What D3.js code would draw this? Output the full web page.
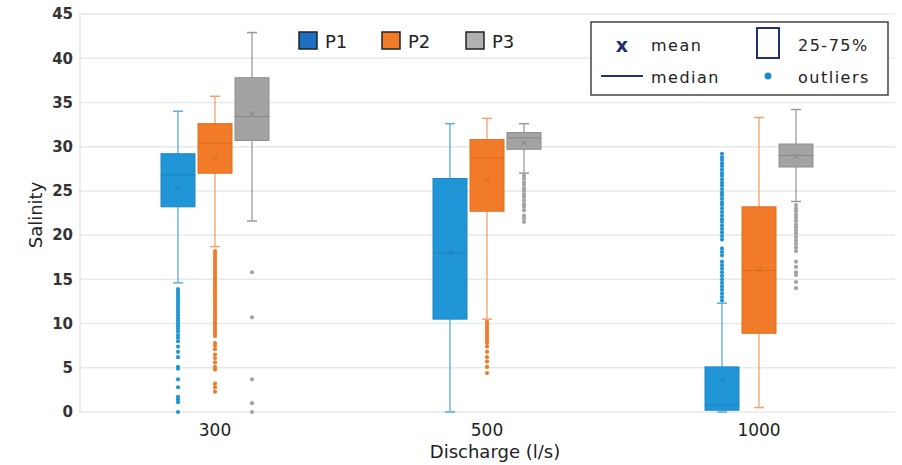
<!DOCTYPE html>
<html>
<head>
<meta charset="utf-8">
<script src="https://cdn.jsdelivr.net/npm/d3@7"></script>
<style>
  body { margin: 0; background: #fff; }
  text { font-family: "DejaVu Sans", Verdana, sans-serif; }
</style>
</head>
<body>
<svg id="chart" width="902" height="465"></svg>
<script>
// Discharge categories and sites
var categories = ["300", "500", "1000"];
var seriesNames = ["P1", "P2", "P3"];
var yTicks = [0, 5, 10, 15, 20, 25, 30, 35, 40, 45];

// per category: [whisker low, q1, median, q3, whisker high, mean]
var p1Box = [[14.6, 23.2, 26.8, 29.2, 34.0, 25.3], [0, 10.5, 18.0, 26.4, 32.6, 18.0], [0, 0.2, 0.8, 5.1, 12.3, 3.6]];
var p2Box = [[18.7, 27.0, 30.4, 32.6, 35.7, 28.8], [10.5, 22.7, 28.7, 30.8, 33.2, 26.2], [0.5, 8.9, 16.0, 23.2, 33.3, 16.1]];
var p3Box = [[21.6, 30.7, 33.4, 37.8, 42.9, 33.7], [27.0, 29.7, 31.0, 31.6, 32.6, 30.4], [23.8, 27.7, 29.0, 30.3, 34.2, 28.9]];

// outliers per category
var p1Out = [
    [13.9, 13.6, 13.3, 13.0, 12.7, 12.4, 12.1, 11.8, 11.5, 11.2, 10.9, 10.6, 10.3, 10.0, 9.7, 9.4, 9.1, 8.7, 8.4, 8.0, 7.4, 6.8, 6.2, 5.1, 4.9, 3.7, 2.8, 1.7, 1.4, 1.1, 0],
    [],
    [29.2, 28.8, 28.5, 28.1, 27.8, 27.4, 27.0, 26.7, 26.3, 25.9, 25.6, 25.2, 24.8, 24.5, 24.1, 23.7, 23.4, 23.0, 22.6, 22.2, 21.8, 21.5, 21.1, 20.7, 20.3, 19.9, 19.5, 18.5, 18.1, 17.7, 17.0, 16.6, 16.2, 15.8, 15.4, 15.0, 14.6, 14.2, 13.8, 13.4, 13.0, 12.6]
];
var p2Out = [
    [18.2, 17.9, 17.6, 17.3, 17.0, 16.7, 16.4, 16.1, 15.8, 15.5, 15.2, 14.9, 14.6, 14.3, 14.0, 13.7, 13.4, 13.1, 12.8, 12.5, 12.2, 11.9, 11.6, 11.3, 11.0, 10.7, 10.4, 10.1, 9.8, 9.5, 9.2, 8.9, 8.6, 7.8, 7.5, 7.1, 6.5, 6.1, 5.6, 5.1, 4.8, 3.2, 2.8, 2.3],
    [10.2, 9.9, 9.6, 9.3, 9.0, 8.7, 8.4, 8.1, 7.8, 7.4, 6.8, 6.2, 5.7, 5.1, 4.4],
    []
];
var p3Out = [
    [15.8, 10.7, 3.7, 1.0, 0],
    [26.7, 26.4, 26.0, 25.7, 25.3, 25.0, 24.6, 24.3, 23.9, 23.5, 23.2, 22.8, 22.2, 21.9, 21.5],
    [23.4, 23.0, 22.7, 22.3, 22.0, 21.6, 21.2, 20.9, 20.5, 20.2, 19.8, 19.4, 19.0, 18.6, 18.2, 17.0, 16.4, 15.8, 15.5, 14.7, 14.0]
];

var boxes = [p1Box, p2Box, p3Box];
var outs = [p1Out, p2Out, p3Out];

var fills = ["#2196d6", "#f27b2a", "#a3a3a3"];
var edges = ["#1c86c4", "#e06e20", "#8f8f8f"];
var whisk = ["#5aaee2", "#f4a06c", "#9a9a9a"];
var inner = ["#1a78b3", "#d0641c", "#7d7d7d"];
var legendFills = ["#1e6fc1", "#f27b2a", "#b0b0b0"];

var m = { left: 79, right: 7, top: 14, bottom: 53 };
var w = 902 - m.left - m.right;
var h = 465 - m.top - m.bottom;

var svg = d3.select("#chart");
var chart = svg.append("g")
    .attr("transform", "translate(" + m.left + "," + m.top + ")");

var x = d3.scaleBand().domain(categories).range([0, w]);
var xs = d3.scalePoint().domain(seriesNames).range([-37, 37]);
var y = d3.scaleLinear().domain([0, 45]).range([h, 0]);
var boxW = 34;

// gridlines
chart.selectAll(".grid").data(yTicks).enter().append("line")
    .attr("x1", 0).attr("x2", w)
    .attr("y1", function (d) { return y(d); })
    .attr("y2", function (d) { return y(d); })
    .style("stroke", "#e6e9ea").style("stroke-width", 1.5);
chart.append("line")
    .attr("x1", 1).attr("x2", 1).attr("y1", 0).attr("y2", h)
    .style("stroke", "#e4e6e7").style("stroke-width", 1.5);

// y axis labels
var yAxis = d3.axisLeft(y).tickValues(yTicks).tickSize(0).tickPadding(6);
var gY = chart.append("g").call(yAxis);
gY.select(".domain").remove();
gY.selectAll("text")
    .style("font-size", "15px").style("font-weight", "bold").style("fill", "#333");

// x axis labels
var xAxis = d3.axisBottom(x).tickSize(0).tickPadding(12);
var gX = chart.append("g").attr("transform", "translate(0," + h + ")").call(xAxis);
gX.select(".domain").remove();
gX.selectAll("text").style("font-size", "17px").style("fill", "#222");

// axis titles
svg.append("text")
    .attr("transform", "translate(42,215) rotate(-90)")
    .attr("text-anchor", "middle")
    .style("font-size", "18px").style("fill", "#222")
    .text("Salinity");
svg.append("text")
    .attr("x", 495).attr("y", 458)
    .attr("text-anchor", "middle")
    .style("font-size", "18px").style("fill", "#222")
    .text("Discharge (l/s)");

// boxes
seriesNames.forEach(function (s, si) {
    categories.forEach(function (c, ci) {
        var b = boxes[si][ci];
        var cx = x(c) + x.bandwidth() / 2 + xs(s);
        var g = chart.append("g");
        // whisker
        g.append("line")
            .attr("x1", cx).attr("x2", cx)
            .attr("y1", y(b[0])).attr("y2", y(b[4]))
            .style("stroke", whisk[si]).style("stroke-width", 1.3);
        [b[0], b[4]].forEach(function (v) {
            g.append("line")
                .attr("x1", cx - 5).attr("x2", cx + 5)
                .attr("y1", y(v)).attr("y2", y(v))
                .style("stroke", whisk[si]).style("stroke-width", 1.5);
        });
        // outliers
        g.selectAll("circle").data(outs[si][ci]).enter().append("circle")
            .attr("cx", cx).attr("cy", function (d) { return y(d); })
            .attr("r", 2.1)
            .style("fill", fills[si]);
        // box
        g.append("rect")
            .attr("x", cx - boxW / 2).attr("width", boxW)
            .attr("y", y(b[3])).attr("height", y(b[1]) - y(b[3]))
            .style("fill", fills[si]).style("stroke", edges[si]).style("stroke-width", 1);
        // median
        g.append("line")
            .attr("x1", cx - boxW / 2).attr("x2", cx + boxW / 2)
            .attr("y1", y(b[2])).attr("y2", y(b[2]))
            .style("stroke", inner[si]).style("stroke-width", 1).style("opacity", 0.7);
        // mean
        var my = y(b[5]);
        g.append("path")
            .attr("d", "M" + (cx - 3) + "," + (my - 2.5) + "L" + (cx + 3) + "," + (my + 2.5) +
                "M" + (cx + 3) + "," + (my - 2.5) + "L" + (cx - 3) + "," + (my + 2.5))
            .style("stroke", inner[si]).style("stroke-width", 1).style("opacity", 0.7);
    });
});

// series legend
var legendX = [299, 382, 466];
seriesNames.forEach(function (s, i) {
    svg.append("rect")
        .attr("x", legendX[i]).attr("y", 32).attr("width", 18).attr("height", 17)
        .style("fill", legendFills[i]).style("stroke", "#222").style("stroke-width", 1.5);
    svg.append("text")
        .attr("x", legendX[i] + 26).attr("y", 48)
        .style("font-size", "18px").style("fill", "#222")
        .text(s);
});

// key legend
var key = svg.append("g");
key.append("rect")
    .attr("x", 591).attr("y", 22).attr("width", 297).attr("height", 73)
    .style("fill", "#fff").style("stroke", "#444").style("stroke-width", 1.5);
key.append("text")
    .attr("x", 622).attr("y", 52).attr("text-anchor", "middle")
    .style("font-size", "19px").style("font-weight", "bold").style("fill", "#1f2f78")
    .text("x");
key.append("rect")
    .attr("x", 757).attr("y", 28).attr("width", 22).attr("height", 30)
    .style("fill", "#fff").style("stroke", "#1f2f78").style("stroke-width", 2);
key.append("line")
    .attr("x1", 601).attr("x2", 643).attr("y1", 76).attr("y2", 76)
    .style("stroke", "#1f2f78").style("stroke-width", 2);
key.append("circle")
    .attr("cx", 768).attr("cy", 76).attr("r", 3.5)
    .style("fill", "#1a8ac8");
var keyText = [["mean", 651, 51], ["25-75%", 798, 51], ["median", 651, 83], ["outliers", 798, 83]];
keyText.forEach(function (k) {
    key.append("text")
        .attr("x", k[1]).attr("y", k[2])
        .style("font-size", "16px").style("letter-spacing", "1.5px").style("fill", "#222")
        .text(k[0]);
});
</script>
</body>
</html>
